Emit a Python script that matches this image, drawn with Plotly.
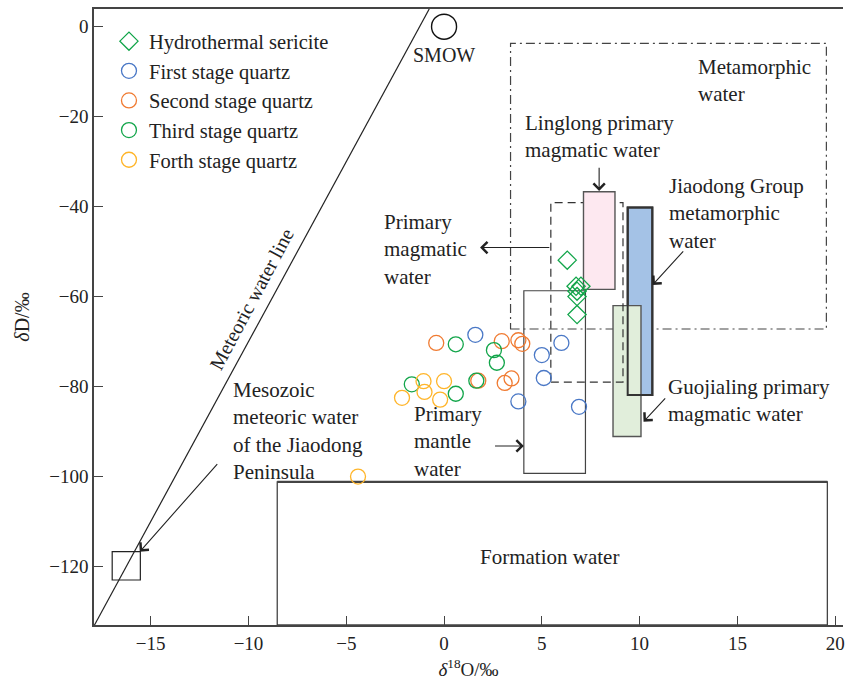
import plotly.graph_objects as go

# ---------------- data ----------------
sericite_x = [6.3, 6.75, 7.0, 6.8, 6.8, 6.8]
sericite_y = [-51.9, -57.7, -57.7, -58.8, -60.0, -64.0]

q1_x = [1.6, 5.0, 6.0, 5.1, 3.8, 6.9]
q1_y = [-68.5, -73.0, -70.3, -78.1, -83.3, -84.5]

q2_x = [-0.4, 2.95, 3.8, 4.0, 1.75, 3.1, 3.45]
q2_y = [-70.3, -69.9, -69.7, -70.5, -78.7, -79.2, -78.2]

q3_x = [0.6, 2.55, 2.7, -1.65, 1.65, 0.6]
q3_y = [-70.6, -71.9, -74.7, -79.5, -78.7, -81.6]

q4_x = [-1.05, 0.0, -1.0, -2.15, -0.2, -4.4]
q4_y = [-78.8, -78.8, -81.2, -82.5, -82.9, -100.0]

smow_x = [0.0]
smow_y = [0.0]

# global meteoric water line dD = 8 d18O + 10
mwl_slope = 8.0
mwl_intercept = 10.0

# reference fields: (x0, x1, y0, y1)
metamorphic_box = (3.40, 19.55, -67.2, -3.7)
primary_magmatic_box = (5.46, 9.15, -79.0, -39.1)
primary_mantle_box = (4.08, 7.23, -99.3, -58.7)
linglong_box = (7.13, 8.74, -58.4, -36.7)
jiaodong_box = (9.39, 10.65, -81.9, -40.2)
guojialing_box = (8.64, 10.07, -91.1, -62.0)
formation_box = (-8.53, 19.6, -133.0, -101.2)
mesozoic_box = (-16.97, -15.53, -123.0, -116.7)

x_ticks = [-15, -10, -5, 0, 5, 10, 15, 20]
y_ticks = [0, -20, -40, -60, -80, -100, -120]
x_range = [-17.9, 20.4]
y_range = [-133.0, 3.93]

FONT = "Liberation Serif, Times New Roman, serif"
TXT = "#222222"
BLUE = "#4a78c6"
ORANGE = "#f07b32"
GREEN = "#12a54a"
YELLOW = "#ffb52a"

fig = go.Figure()

# ---------------- shapes (fields) ----------------
def rect(box, line_color="#444", width=1.2, dash="solid", fill="rgba(0,0,0,0)"):
    x0, x1, y0, y1 = box
    fig.add_shape(type="rect", xref="x", yref="y", x0=x0, x1=x1, y0=y0, y1=y1,
                  line=dict(color=line_color, width=width, dash=dash),
                  fillcolor=fill, layer="below")

rect(metamorphic_box, "#444", 1.2, "9px,4px,2px,4px")
rect(jiaodong_box, "#333", 2.0, "solid", "#a4c2e6")
rect(guojialing_box, "#555", 1.4, "solid", "#e1eedb")
rect(jiaodong_box, "#333", 2.0, "solid")
rect(primary_magmatic_box, "#333", 1.2, "8px,5px")
rect(linglong_box, "#555", 1.4, "solid", "#fde8f0")
rect(primary_mantle_box, "#444", 1.2)
fx0, fx1, fy0, fy1 = formation_box
fig.add_shape(type="rect", xref="x", yref="y", x0=fx0, x1=fx1, y0=fy0, y1=fy1,
              line=dict(color="#444", width=1.3), layer="below")
fig.add_shape(type="line", xref="x", yref="y", x0=fx0, x1=fx1, y0=fy1, y1=fy1,
              line=dict(color="#444", width=2.2), layer="below")
rect(mesozoic_box, "#222", 1.2)

# ---------------- meteoric water line ----------------
mwl_x = [x_range[0], (y_range[1] - mwl_intercept) / mwl_slope]
mwl_y = [mwl_slope * v + mwl_intercept for v in mwl_x]
fig.add_trace(go.Scatter(x=mwl_x, y=mwl_y, mode="lines", showlegend=False,
                         line=dict(color="#222", width=1.2), hoverinfo="skip"))

# SMOW
fig.add_trace(go.Scatter(x=smow_x, y=smow_y, mode="markers", showlegend=False,
                         marker=dict(symbol="circle-open", size=25, color="#111",
                                     line=dict(color="#111", width=1.4))))

# ---------------- sample series ----------------
def series(name, xs, ys, color, symbol, size):
    fig.add_trace(go.Scatter(x=xs, y=ys, mode="markers", name=name, legendgroup=name,
                             marker=dict(symbol=symbol, size=size, color=color,
                                         line=dict(color=color, width=1.3))))

series("Hydrothermal sericite", sericite_x, sericite_y, GREEN, "diamond-open", 14)
series("First stage quartz", q1_x, q1_y, BLUE, "circle-open", 15)
series("Second stage quartz", q2_x, q2_y, ORANGE, "circle-open", 15)
series("Third stage quartz", q3_x, q3_y, GREEN, "circle-open", 15)
series("Forth stage quartz", q4_x, q4_y, YELLOW, "circle-open", 15)

# ---------------- text labels ----------------
def label(lines, x, y, size=21, xanchor="left"):
    fig.add_annotation(x=x, y=y, xref="x", yref="y", text="<br>".join(lines),
                       showarrow=False, xanchor=xanchor, yanchor="middle",
                       align="left", font=dict(family=FONT, size=size, color=TXT))

label(["SMOW"], 0.0, -6.3, size=20, xanchor="center")
label(["Metamorphic", "water"], 12.86, -12.0)
label(["Linglong primary", "magmatic water"], 4.03, -24.4)
label(["Primary", "magmatic", "water"], -3.16, -49.5)
label(["Primary", "mantle", "water"], -1.65, -92.2)
label(["Jiaodong Group", "metamorphic", "water"], 11.39, -41.5)
label(["Guojialing primary", "magmatic water"], 11.34, -83.2)
label(["Mesozoic", "meteoric water", "of the Jiaodong", "Peninsula"], -10.88, -89.8)
label(["Formation water"], 5.41, -117.8, xanchor="center")

fig.add_annotation(x=-9.85, y=-60.5, xref="x", yref="y", text="Meteoric water line",
                   showarrow=False, textangle=-62, xanchor="center", yanchor="middle",
                   font=dict(family=FONT, size=20, color=TXT))

# ---------------- arrows ----------------
def arrow(tail, head):
    fig.add_annotation(x=head[0], y=head[1], ax=tail[0], ay=tail[1],
                       xref="x", yref="y", axref="x", ayref="y", text="",
                       showarrow=True, arrowhead=4, arrowsize=2.0, arrowwidth=1.1,
                       arrowcolor="#222", standoff=0)

arrow((-11.53, -96.9), (-15.56, -116.7))
arrow((5.46, -49.1), (1.84, -49.1))
arrow((2.53, -93.2), (4.08, -93.2))
arrow((7.93, -31.0), (7.93, -36.5))
arrow((12.30, -49.6), (10.66, -57.4))
arrow((11.38, -82.3), (10.20, -87.8))

# ---------------- layout ----------------
axis_common = dict(showgrid=False, zeroline=False, showline=True, linecolor="#444",
                   linewidth=1.5, ticks="inside", ticklen=9, tickwidth=1.3,
                   tickcolor="#444", tickfont=dict(family=FONT, size=19, color=TXT))

fig.update_layout(
    width=845, height=684,
    margin=dict(l=94, r=0, t=9, b=59),
    paper_bgcolor="white", plot_bgcolor="white",
    font=dict(family=FONT, size=19, color=TXT),
    xaxis=dict(range=x_range, tickvals=x_ticks, mirror=True, ticklabeloverflow="allow",
               title=dict(text="<i>δ</i><sup>18</sup>O/‰", standoff=10,
                          font=dict(family=FONT, size=19, color=TXT)),
               **axis_common),
    yaxis=dict(range=y_range, tickvals=y_ticks, mirror=False,
               title=dict(text="<i>δ</i>D/‰", standoff=14,
                          font=dict(family=FONT, size=20, color=TXT)),
               **axis_common),
    legend=dict(x=0.02, y=0.98, xanchor="left", yanchor="top",
                bgcolor="rgba(0,0,0,0)", font=dict(family=FONT, size=20.5, color=TXT),
                tracegroupgap=0),
    showlegend=True,
)

fig.write_html("out.html", config={"displayModeBar": False},
               post_script="document.body.style.margin='0px';")
